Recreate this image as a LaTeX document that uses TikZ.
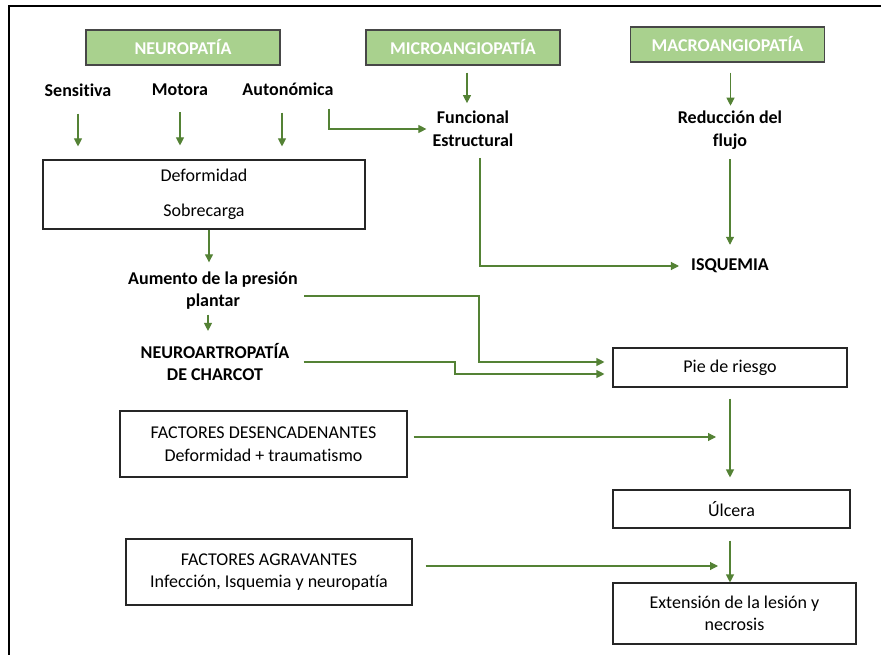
\documentclass[tikz,border=0pt]{standalone}
\usepackage{fontspec}
\setmainfont{Carlito}[Ligatures=NoCommon]
\usepackage{xcolor}
\usepackage{tikz}
\usetikzlibrary{arrows.meta}

\definecolor{hdrgreen}{HTML}{A9D18E}
\definecolor{arrgreen}{HTML}{548235}
\definecolor{boxline}{HTML}{262626}
\newcommand{\basefont}{\fontsize{18}{22.5}\selectfont}

\tikzset{
    hdr/.style={draw=boxline!85, line width=1.3pt, fill=hdrgreen, text=white,
        font=\basefont\bfseries, minimum width=194pt, minimum height=35pt, inner sep=0pt},
    lbl/.style={font=\basefont\bfseries, text=black, align=center, inner sep=0pt},
    txtbox/.style={draw=boxline, line width=1.1pt, font=\basefont, align=center, inner sep=0pt},
    arr/.style={draw=arrgreen, line width=1.1pt, -{Triangle[length=8pt, width=8pt]}}
}

\begin{document}
\begin{tikzpicture}[x=1pt, y=-1pt]
    \useasboundingbox (0, 0) rectangle (881, 655);
    \draw [line width=2.2pt] (9, 655) -- (9, 6) -- (881, 6);

    \node [hdr] (neuro) at (183, 47.5) {NEUROPATÍA};
    \node [hdr] (micro) at (463, 47.5) {MICROANGIOPATÍA};
    \node [hdr] (macro) at (727.5, 44.5) {MACROANGIOPATÍA};

    \node [lbl] (sens) at (78, 90) {Sensitiva};
    \node [lbl] (mot) at (180, 90) {Motora};
    \node [lbl] (auto) at (288, 89) {Autonómica};
    \node [lbl] (func) at (473, 129) {Funcional\\Estructural};
    \node [lbl] (red) at (730, 130) {Reducción del\\flujo};
    \node [txtbox, minimum width=322pt, minimum height=69pt] (def) at (204, 194.5) {Deformidad\\[12.5pt]Sobrecarga};
    \node [lbl] (isq) at (730, 266) {ISQUEMIA};
    \node [lbl] (aum) at (213, 290.5) {Aumento de la presión\\plantar};
    \node [lbl] (charcot) at (215, 362) {NEUROARTROPATÍA\\DE CHARCOT};
    \node [txtbox, minimum width=234pt, minimum height=39pt] (pie) at (730, 367.5) {Pie de riesgo};
    \node [txtbox, minimum width=287pt, minimum height=66pt] (desenc) at (263.5, 444) {FACTORES DESENCADENANTES\\Deformidad + traumatismo};
    \node [txtbox, minimum width=237pt, minimum height=38pt] (ulcera) at (731.5, 509) {Úlcera};
    \node [txtbox, minimum width=286pt, minimum height=66pt] (agrav) at (269, 572) {FACTORES AGRAVANTES\\Infección, Isquemia y neuropatía};
    \node [txtbox, minimum width=243pt, minimum height=61pt] (ext) at (734.5, 613.5) {Extensión de la lesión y\\necrosis};

    \coordinate (aumbend) at (479, 362);
    \coordinate (chbend) at (455, 374);
    \coordinate (desend) at (716, 437);
    \coordinate (agrend) at (718, 566);

    \draw [arr, shorten <=17pt, shorten >=13pt] (sens) -- (sens |- def.north);
    \draw [arr, shorten <=16pt, shorten >=14pt] (mot) -- (mot |- def.north);
    \draw [arr, shorten <=17pt, shorten >=13pt] ([xshift=-6pt]auto.south) -- ([xshift=-6pt]auto.south |- def.north);
    \draw [arr, shorten >=6pt] ([xshift=41pt, yshift=-13pt]auto.south) |- (func.west);
    \draw [arr, shorten <=7pt, shorten >=8pt] ([xshift=4pt]micro.south) -- ([xshift=4pt]micro.south |- func.north);
    \draw [arr, shorten <=10pt, shorten >=5pt] ([xshift=3pt]macro.south) -- ([xshift=3pt]macro.south |- red.north);
    \draw [arr, shorten <=10pt, shorten >=14pt] (red) -- (isq);
    \draw [arr, shorten <=11pt, shorten >=12pt] ([xshift=7pt]func.south) |- (isq.west);
    \draw [arr, shorten >=9pt] ([xshift=5pt]def.south) -- ([xshift=5pt]def.south |- aum.north);
    \draw [arr, shorten <=5pt, shorten >=12pt] ([xshift=-5pt]aum.south) -- ([xshift=-5pt]aum.south |- charcot.north);
    \draw [arr, shorten <=6pt, shorten >=8pt] ([yshift=-5.5pt]aum.east) -| (aumbend) -- (aumbend -| pie.west);
    \draw [arr, shorten <=14pt, shorten >=8pt] (charcot.east) -| (chbend) -- (chbend -| pie.west);
    \draw [arr, shorten <=11pt, shorten >=12pt] (pie.south) -- (pie.south |- ulcera.north);
    \draw [arr, shorten <=6pt] ([yshift=7pt]desenc.east) -- (desend);
    \draw [arr, shorten <=12pt] (ulcera.south -| pie.south) -- (pie.south |- ext.north);
    \draw [arr, shorten <=13pt] ([yshift=6pt]agrav.east) -- (agrend);

\end{tikzpicture}
\end{document}
